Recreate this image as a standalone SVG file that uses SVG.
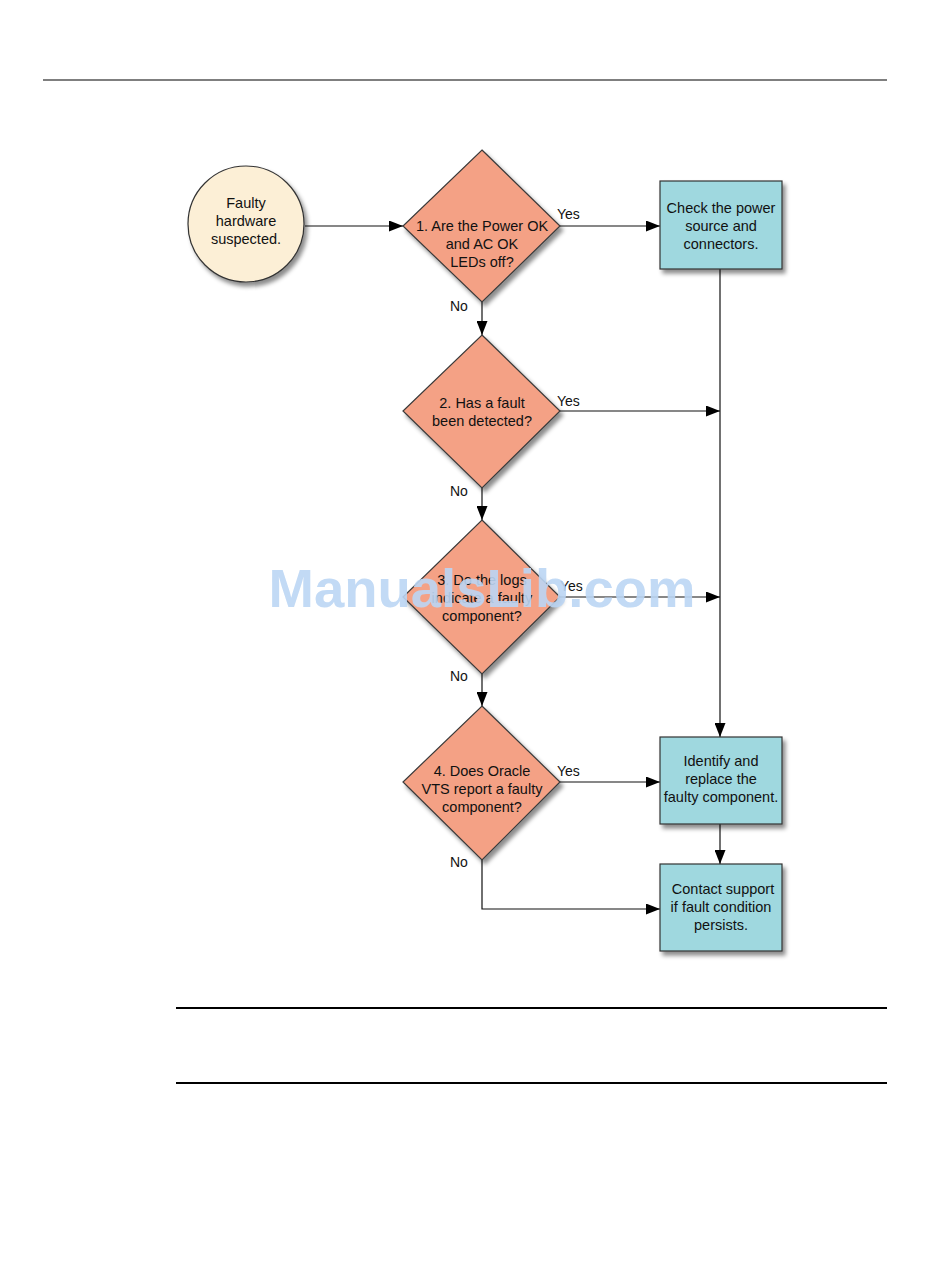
<svg xmlns="http://www.w3.org/2000/svg" width="950" height="1284" viewBox="0 0 950 1284">
<style>
.t{font-family:"Liberation Sans",Arial,sans-serif;font-size:14.5px;fill:#111;text-anchor:middle}
.l{font-family:"Liberation Sans",Arial,sans-serif;font-size:14px;fill:#111}
.dia{fill:#f4a185;stroke:#3a3a3a;stroke-width:1.2}
.box{fill:#9fd8df;stroke:#333;stroke-width:1.2}
.c{fill:none;stroke:#111;stroke-width:1.2}
</style>
<defs>
<filter id="sh" x="-20%" y="-20%" width="150%" height="150%">
<feDropShadow dx="3" dy="4" stdDeviation="2.2" flood-color="#000" flood-opacity="0.45"/>
</filter>
<marker id="ah" markerWidth="14" markerHeight="11" refX="14" refY="5.5" orient="auto" markerUnits="userSpaceOnUse">
<path d="M0,0 L14,5.5 L0,11 Z" fill="#000"/>
</marker>
</defs>
<rect width="950" height="1284" fill="#fff"/>
<line x1="43" y1="80" x2="887" y2="80" stroke="#555" stroke-width="1.5"/>
<line x1="176" y1="1008" x2="887" y2="1008" stroke="#000" stroke-width="2"/>
<line x1="176" y1="1083" x2="887" y2="1083" stroke="#000" stroke-width="2"/>

<g id="connectors">
<line class="c" x1="305" y1="226" x2="403" y2="226" marker-end="url(#ah)"/>
<line class="c" x1="560" y1="226" x2="660" y2="226" marker-end="url(#ah)"/>
<line class="c" x1="720" y1="269" x2="720" y2="737" marker-end="url(#ah)"/>
<line class="c" x1="482" y1="302" x2="482" y2="335" marker-end="url(#ah)"/>
<line class="c" x1="560" y1="411" x2="720" y2="411" marker-end="url(#ah)"/>
<line class="c" x1="482" y1="488" x2="482" y2="520" marker-end="url(#ah)"/>
<line class="c" x1="560" y1="597" x2="720" y2="597" marker-end="url(#ah)"/>
<line class="c" x1="482" y1="674" x2="482" y2="706" marker-end="url(#ah)"/>
<line class="c" x1="560" y1="782" x2="660" y2="782" marker-end="url(#ah)"/>
<line class="c" x1="720" y1="824" x2="720" y2="864" marker-end="url(#ah)"/>
<polyline class="c" points="482,860 482,909 660,909" marker-end="url(#ah)"/>
<text class="l" x="557" y="219">Yes</text>
<text class="l" x="557" y="406">Yes</text>
<text class="l" x="560" y="591">Yes</text>
<text class="l" x="557" y="776">Yes</text>
<text class="l" x="450" y="311">No</text>
<text class="l" x="450" y="496">No</text>
<text class="l" x="450" y="681">No</text>
<text class="l" x="450" y="867">No</text>
</g>

<g id="start">
<circle cx="246" cy="224" r="58" fill="#fcefd6" stroke="#333" stroke-width="1.2" filter="url(#sh)"/>
<text class="t" x="246" y="208">Faulty</text>
<text class="t" x="246" y="226">hardware</text>
<text class="t" x="246" y="244">suspected.</text>
</g>

<g id="q1">
<polygon class="dia" points="482,150 560,226 482,302 403,226" filter="url(#sh)"/>
<text class="t" x="482" y="231">1. Are the Power OK</text>
<text class="t" x="482" y="249">and AC OK</text>
<text class="t" x="482" y="267">LEDs off?</text>
</g>

<g id="check">
<rect class="box" x="660" y="181" width="122" height="88" filter="url(#sh)"/>
<text class="t" x="721" y="213">Check the power</text>
<text class="t" x="721" y="231">source and</text>
<text class="t" x="721" y="249">connectors.</text>
</g>

<g id="q2">
<polygon class="dia" points="482,335 560,411 482,488 403,411" filter="url(#sh)"/>
<text class="t" x="482" y="408">2. Has a fault</text>
<text class="t" x="482" y="426">been detected?</text>
</g>

<g id="q3">
<polygon class="dia" points="482,520 560,597 482,674 403,597" filter="url(#sh)"/>
<text class="t" x="482" y="585">3. Do the logs</text>
<text class="t" x="482" y="603">indicate a faulty</text>
<text class="t" x="482" y="621">component?</text>
</g>

<g id="q4">
<polygon class="dia" points="482,706 560,782 482,860 403,782" filter="url(#sh)"/>
<text class="t" x="482" y="776">4. Does Oracle</text>
<text class="t" x="482" y="794">VTS report a faulty</text>
<text class="t" x="482" y="812">component?</text>
</g>

<g id="replace">
<rect class="box" x="660" y="737" width="122" height="87" filter="url(#sh)"/>
<text class="t" x="721" y="766">Identify and</text>
<text class="t" x="721" y="784">replace the</text>
<text class="t" x="721" y="802">faulty component.</text>
</g>

<g id="support">
<rect class="box" x="660" y="864" width="122" height="87" filter="url(#sh)"/>
<text class="t" x="723" y="894">Contact support</text>
<text class="t" x="721" y="912">if fault condition</text>
<text class="t" x="721" y="930">persists.</text>
</g>

<text x="482" y="607" font-family="Liberation Sans,Arial,sans-serif" font-weight="bold" font-size="54.5" fill="#bcd6f4" opacity="0.9" text-anchor="middle">ManualsLib.com</text>
</svg>
